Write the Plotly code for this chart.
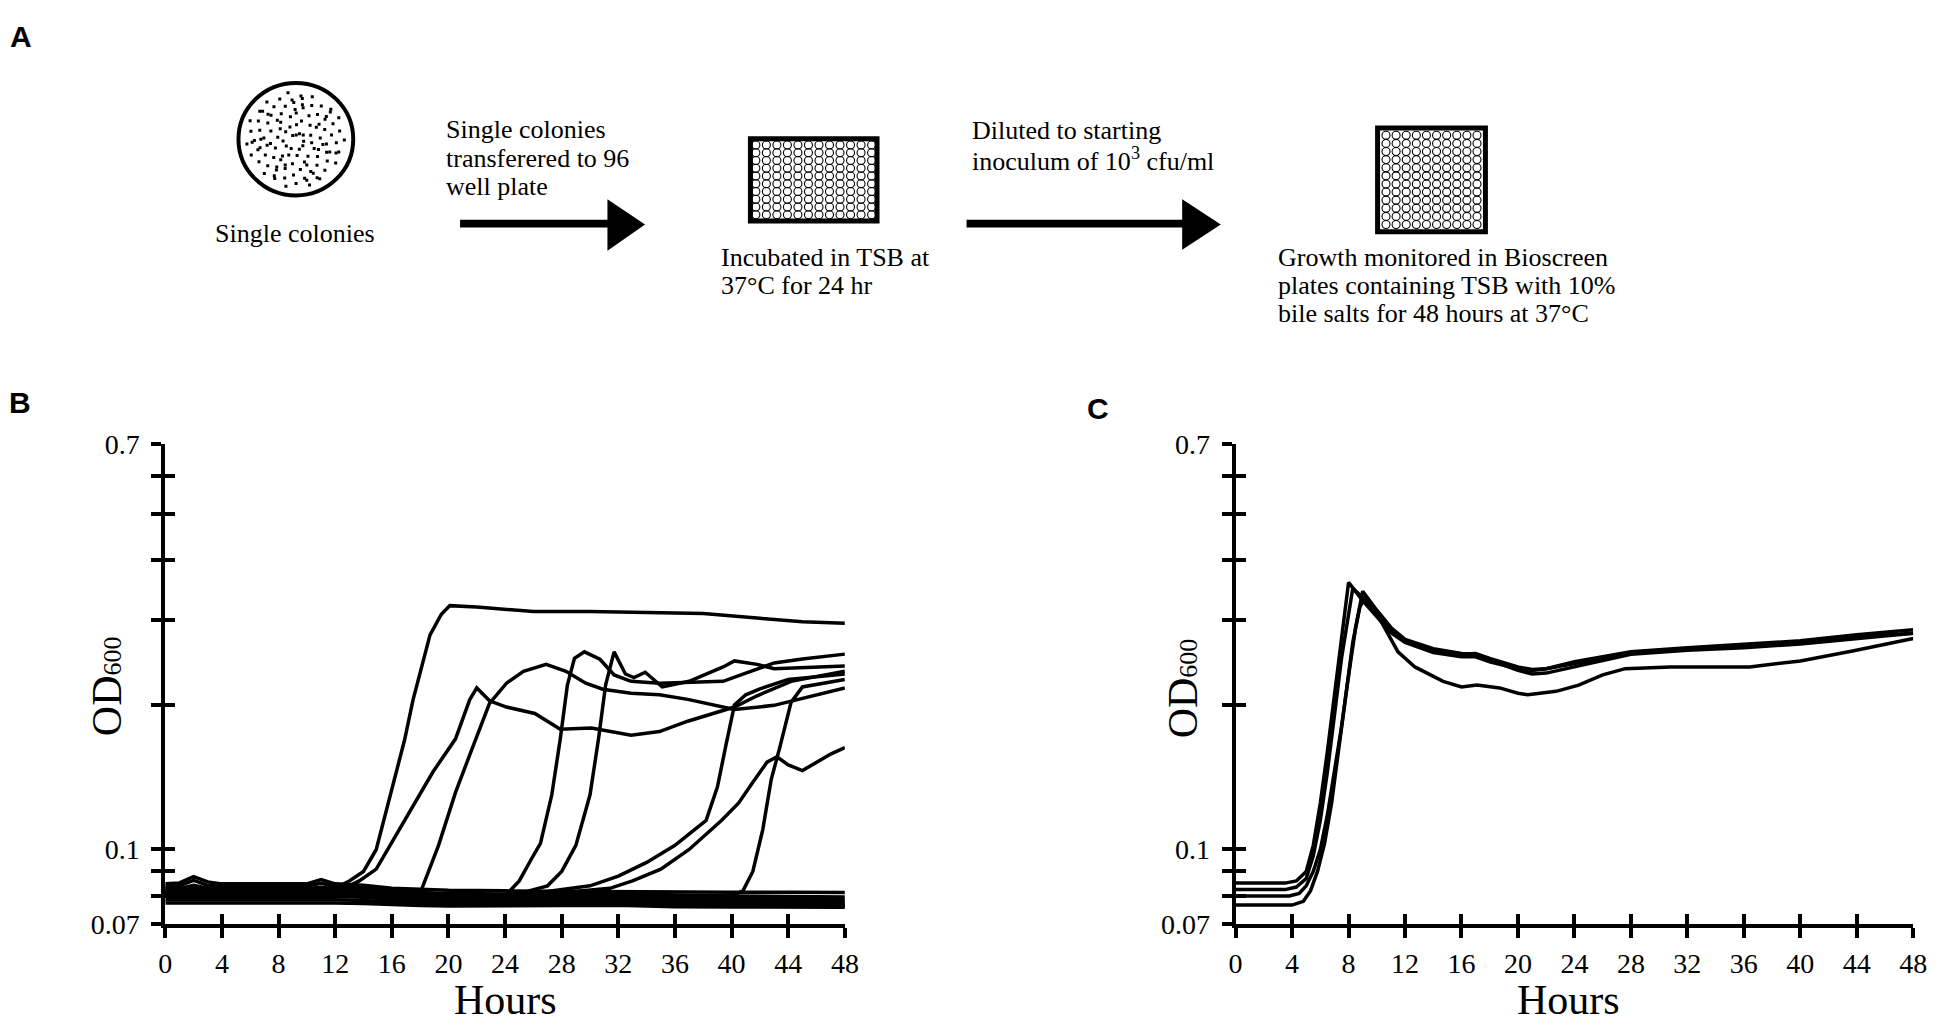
import math
import plotly.graph_objects as go

W, H = 1950, 1032
SERIF = "Liberation Serif"

# ---------------- data: panel B (OD600 vs hours, log axis) ----------------
hours_flat = [0, 1, 2, 3, 4, 6, 8, 10, 11, 12, 14, 16, 18, 20, 24, 28, 32, 36, 40, 44, 48]
flat_1 = [0.0848, 0.0852, 0.0878, 0.0856, 0.0848, 0.0848, 0.0848, 0.0848, 0.0866, 0.0848, 0.0842, 0.0830, 0.0826, 0.0822, 0.0820, 0.0818, 0.0819, 0.0816, 0.0815, 0.0815, 0.0814]
flat_2 = [0.0838, 0.0840, 0.0862, 0.0842, 0.0838, 0.0838, 0.0838, 0.0839, 0.0850, 0.0838, 0.0834, 0.0820, 0.0814, 0.0810, 0.0808, 0.0810, 0.0814, 0.0802, 0.0799, 0.0797, 0.0796]
flat_3 = [0.0828, 0.0829, 0.0842, 0.0830, 0.0828, 0.0828, 0.0828, 0.0828, 0.0834, 0.0828, 0.0824, 0.0812, 0.0805, 0.0802, 0.0800, 0.0802, 0.0805, 0.0794, 0.0790, 0.0788, 0.0787]
flat_4 = [0.0818, 0.0818, 0.0826, 0.0820, 0.0818, 0.0818, 0.0818, 0.0818, 0.0822, 0.0818, 0.0815, 0.0803, 0.0796, 0.0792, 0.0790, 0.0793, 0.0796, 0.0786, 0.0782, 0.0780, 0.0779]
flat_5 = [0.0808, 0.0808, 0.0813, 0.0809, 0.0808, 0.0808, 0.0808, 0.0808, 0.0811, 0.0808, 0.0804, 0.0794, 0.0788, 0.0784, 0.0782, 0.0784, 0.0787, 0.0778, 0.0775, 0.0773, 0.0772]
flat_6 = [0.0798, 0.0798, 0.0801, 0.0799, 0.0798, 0.0798, 0.0798, 0.0798, 0.0800, 0.0798, 0.0795, 0.0786, 0.0780, 0.0777, 0.0775, 0.0777, 0.0779, 0.0771, 0.0769, 0.0767, 0.0766]
flat_7 = [0.0786, 0.0786, 0.0789, 0.0787, 0.0786, 0.0786, 0.0786, 0.0786, 0.0787, 0.0786, 0.0783, 0.0776, 0.0772, 0.0770, 0.0769, 0.0771, 0.0772, 0.0765, 0.0763, 0.0762, 0.0762]
flat_8 = [0.0774, 0.0774, 0.0777, 0.0775, 0.0774, 0.0774, 0.0774, 0.0774, 0.0775, 0.0774, 0.0772, 0.0767, 0.0764, 0.0763, 0.0762, 0.0764, 0.0765, 0.0760, 0.0759, 0.0758, 0.0758]

b_hours_1 = [0, 4, 8, 12, 13, 14, 14.9, 16, 16.9, 17.5, 18.1, 18.7, 19.5, 20.1, 22, 26, 30, 34, 38, 42, 45, 48]
b_od_1 = [0.083, 0.083, 0.083, 0.083, 0.086, 0.09, 0.1, 0.134, 0.169, 0.205, 0.24, 0.28, 0.309, 0.322, 0.32, 0.313, 0.313, 0.311, 0.31, 0.303, 0.298, 0.296]

b_hours_2 = [0, 4, 8, 12, 13, 13.7, 14.9, 16.9, 18.9, 20.5, 21.5, 22, 22.9, 24.1, 26.1, 27.9, 30.1, 32.9, 34.9, 36.9, 40.2, 41.8, 44.2, 46.6, 48]
b_od_2 = [0.082, 0.082, 0.082, 0.082, 0.084, 0.086, 0.091, 0.115, 0.145, 0.17, 0.205, 0.217, 0.204, 0.198, 0.192, 0.178, 0.179, 0.173, 0.176, 0.185, 0.198, 0.209, 0.224, 0.231, 0.235]

b_hours_3 = [0, 4, 8, 12, 16, 18.1, 19.3, 20.5, 21.7, 22.9, 24.1, 25.3, 26.9, 28.3, 29.7, 30.9, 32.9, 34.9, 36.9, 40.2, 43, 45.8, 48]
b_od_3 = [0.081, 0.081, 0.081, 0.081, 0.08, 0.0825, 0.102, 0.1315, 0.163, 0.2015, 0.222, 0.235, 0.243, 0.235, 0.222, 0.2157, 0.2115, 0.21, 0.2054, 0.1957, 0.1996, 0.2094, 0.217]

b_hours_4 = [0, 4, 8, 12, 16, 20, 24, 25, 25.9, 26.5, 27.3, 27.9, 28.4, 28.9, 29.6, 30.7, 31.7, 32.9, 34.9, 36.9, 39.4, 41, 43, 45, 48]
b_od_4 = [0.0815, 0.0815, 0.0815, 0.0815, 0.08, 0.079, 0.08, 0.086, 0.096, 0.103, 0.13, 0.17, 0.22, 0.25, 0.258, 0.249, 0.231, 0.224, 0.222, 0.2225, 0.224, 0.233, 0.2446, 0.2494, 0.2552]

b_hours_5 = [0, 4, 8, 12, 16, 20, 24, 27, 28, 29, 30, 30.6, 31.1, 31.7, 32.5, 33.1, 33.9, 35.1, 37, 39.4, 40.2, 41.8, 43, 45, 48]
b_od_5 = [0.0805, 0.0805, 0.0805, 0.0805, 0.079, 0.079, 0.0795, 0.084, 0.09, 0.102, 0.13, 0.17, 0.22, 0.258, 0.232, 0.228, 0.234, 0.218, 0.224, 0.24, 0.247, 0.243, 0.238, 0.239, 0.241]

b_hours_6 = [0, 8, 16, 24, 30, 32, 34, 36, 38.2, 39, 39.6, 40.2, 41, 42, 44, 46, 48]
b_od_6 = [0.0812, 0.0812, 0.0798, 0.0796, 0.084, 0.088, 0.094, 0.102, 0.115, 0.135, 0.165, 0.2, 0.21, 0.216, 0.226, 0.229, 0.232]

b_hours_7 = [0, 8, 16, 24, 31.4, 33, 35, 37, 39.3, 40.5, 41.5, 42.5, 43.2, 44, 45, 46, 47, 48]
b_od_7 = [0.0808, 0.0808, 0.0795, 0.0793, 0.083, 0.086, 0.091, 0.1, 0.115, 0.125, 0.138, 0.152, 0.156, 0.15, 0.146, 0.152, 0.158, 0.163]

b_hours_8 = [0, 8, 16, 24, 32, 40, 40.8, 41.5, 42.2, 42.8, 43.4, 44.2, 45, 46.6, 48]
b_od_8 = [0.0822, 0.0822, 0.0808, 0.0805, 0.0808, 0.080, 0.082, 0.09, 0.11, 0.14, 0.163, 0.2025, 0.218, 0.222, 0.226]

# ---------------- data: panel C ----------------
c_hours_1 = [0, 3.5, 4.3, 5, 5.5, 6, 6.5, 7, 7.5, 8, 9, 10, 11, 12, 14, 16, 17, 18, 20, 21, 22, 24, 26, 28, 32, 36, 40, 44, 48]
c_od_1 = [0.0851, 0.0851, 0.086, 0.09, 0.102, 0.125, 0.16, 0.21, 0.28, 0.36, 0.33, 0.305, 0.283, 0.27, 0.257, 0.252, 0.252, 0.246, 0.238, 0.236, 0.238, 0.246, 0.252, 0.258, 0.263, 0.267, 0.272, 0.28, 0.287]

c_hours_2 = [0, 3.5, 4.3, 5, 5.5, 6, 6.5, 7, 7.5, 8.3, 9, 10, 11, 12, 14, 16, 17, 18, 20, 21, 22, 24, 26, 28, 32, 36, 40, 44, 48]
c_od_2 = [0.0825, 0.0825, 0.0835, 0.087, 0.097, 0.115, 0.145, 0.19, 0.25, 0.35, 0.335, 0.31, 0.288, 0.272, 0.26, 0.255, 0.256, 0.25, 0.24, 0.237, 0.238, 0.244, 0.25, 0.256, 0.262, 0.266, 0.27, 0.277, 0.282]

c_hours_3 = [0, 3.8, 4.5, 5, 5.5, 6, 6.5, 7, 7.5, 8, 8.5, 9, 10, 11, 12, 14, 16, 17, 18, 20, 21, 22, 24, 26, 28, 32, 36, 40, 44, 48]
c_od_3 = [0.080, 0.080, 0.081, 0.084, 0.09, 0.1, 0.118, 0.145, 0.18, 0.23, 0.29, 0.345, 0.315, 0.29, 0.274, 0.262, 0.256, 0.255, 0.248, 0.236, 0.232, 0.233, 0.24, 0.248, 0.255, 0.26, 0.263, 0.268, 0.275, 0.282]

c_hours_4 = [0, 4, 4.8, 5.3, 5.8, 6.3, 6.8, 7.3, 7.8, 8.3, 8.8, 9.2, 10, 10.7, 11.5, 12.7, 14.7, 16, 17.1, 18.7, 20, 20.7, 22.7, 24.3, 26, 27.6, 30.8, 36.4, 40, 43.7, 48]
c_od_4 = [0.0766, 0.0766, 0.078, 0.082, 0.09, 0.103, 0.125, 0.16, 0.21, 0.27, 0.32, 0.335, 0.31, 0.285, 0.258, 0.24, 0.224, 0.218, 0.22, 0.217, 0.2115, 0.21, 0.2135, 0.22, 0.231, 0.238, 0.24, 0.24, 0.247, 0.259, 0.275]

# ---------------- axis ticks ----------------
hour_ticks = list(range(0, 49, 4))
od_ticks = [0.07, 0.08, 0.09, 0.1, 0.2, 0.3, 0.4, 0.5, 0.6, 0.7]
od_labels = ["0.07", "", "", "0.1", "", "", "", "", "", "0.7"]


def px(x):
    return x / W


def py(y):
    return 1 - y / H


fig = go.Figure()

b_flat = [flat_1, flat_2, flat_3, flat_4, flat_5, flat_6, flat_7, flat_8]
b_grow = [(b_hours_1, b_od_1), (b_hours_2, b_od_2), (b_hours_3, b_od_3), (b_hours_4, b_od_4),
          (b_hours_5, b_od_5), (b_hours_6, b_od_6), (b_hours_7, b_od_7), (b_hours_8, b_od_8)]
c_grow = [(c_hours_1, c_od_1), (c_hours_2, c_od_2), (c_hours_3, c_od_3), (c_hours_4, c_od_4)]

for vals in b_flat:
    fig.add_trace(go.Scatter(x=hours_flat, y=vals, mode="lines", xaxis="x", yaxis="y",
                             line=dict(color="black", width=3.5), showlegend=False, hoverinfo="skip"))
for hrs, vals in b_grow:
    fig.add_trace(go.Scatter(x=hrs, y=vals, mode="lines", xaxis="x", yaxis="y",
                             line=dict(color="black", width=3.5), showlegend=False, hoverinfo="skip"))
for hrs, vals in c_grow:
    fig.add_trace(go.Scatter(x=hrs, y=vals, mode="lines", xaxis="x2", yaxis="y2",
                             line=dict(color="black", width=3.5), showlegend=False, hoverinfo="skip"))

# empty traces so the overlay axes (inner half of the crossing ticks) get drawn
fig.add_trace(go.Scatter(x=[None], y=[None], xaxis="x4", yaxis="y4", showlegend=False))
fig.add_trace(go.Scatter(x=[None], y=[None], xaxis="x5", yaxis="y5", showlegend=False))

# ---------------- panel A schematic (pixel coordinates on x3/y3) ----------------
dish_cx, dish_cy, dish_r = 292, 128, 58
n_dots = 120
dot_x, dot_y = [], []
for i in range(n_dots):
    u = (0.5 + i * 0.7548776662) % 1
    v = (0.5 + i * 0.5698402910) % 1
    rr = 50 * math.sqrt(u)
    dot_x.append(dish_cx + rr * math.cos(2 * math.pi * v))
    dot_y.append(dish_cy + rr * math.sin(2 * math.pi * v))
fig.add_trace(go.Scatter(x=dot_x, y=dot_y, mode="markers", xaxis="x3", yaxis="y3",
                         marker=dict(symbol="square", size=3, color="black"),
                         showlegend=False, hoverinfo="skip"))


def well_grid(x0, x1, y0, y1, ncol, nrow):
    xs, ys = [], []
    for r in range(nrow):
        for c in range(ncol):
            xs.append(x0 + (x1 - x0) * c / (ncol - 1))
            ys.append(y0 + (y1 - y0) * r / (nrow - 1))
    return xs, ys


for (gx0, gx1, gy0, gy1, nc, nr) in [(757, 874, 134, 206, 12, 10),
                                      (1394, 1486, 124, 216, 10, 12)]:
    wx, wy = well_grid(gx0, gx1, gy0, gy1, nc, nr)
    fig.add_trace(go.Scatter(x=wx, y=wy, mode="markers", xaxis="x3", yaxis="y3",
                             marker=dict(symbol="circle-open", size=8, color="black",
                                         line=dict(width=1.1, color="black")),
                             showlegend=False, hoverinfo="skip"))

shapes = [
    dict(type="circle", xref="x3", yref="y3", x0=dish_cx - dish_r, x1=dish_cx + dish_r,
         y0=dish_cy - dish_r, y1=dish_cy + dish_r, line=dict(color="black", width=4)),
    dict(type="rect", xref="x3", yref="y3", x0=751.5, x1=879.5, y0=127.5, y1=212.5,
         line=dict(color="black", width=5)),
    dict(type="rect", xref="x3", yref="y3", x0=1385.5, x1=1494.5, y0=116.5, y1=223.5,
         line=dict(color="black", width=5)),
    dict(type="rect", xref="x3", yref="y3", x0=458, x1=610, y0=211, y1=219,
         fillcolor="black", line=dict(width=0)),
    dict(type="path", xref="x3", yref="y3", path="M 607 190 L 645 216 L 607 243 Z",
         fillcolor="black", line=dict(width=0)),
    dict(type="rect", xref="x3", yref="y3", x0=970, x1=1190, y0=211, y1=219,
         fillcolor="black", line=dict(width=0)),
    dict(type="path", xref="x3", yref="y3", path="M 1188 190 L 1227 216 L 1188 242 Z",
         fillcolor="black", line=dict(width=0)),
]

text_font = dict(family=SERIF, size=26, color="black")
annotations = []
a_lines = [
    (208, 225, "Single colonies"),
    (442, 118, "Single colonies"),
    (442, 148, "transferered to 96"),
    (442, 177, "well plate"),
    (720, 250, "Incubated in TSB at"),
    (720, 279, "37°C for 24 hr"),
    (973, 119, "Diluted to starting"),
    (973, 149, "inoculum of 10<sup>3</sup> cfu/ml"),
    (1283, 250, "Growth monitored in Bioscreen"),
    (1283, 279, "plates containing TSB with 10%"),
    (1283, 308, "bile salts for 48 hours at 37°C"),
]
for x, y, t in a_lines:
    annotations.append(dict(x=px(x), y=py(y), xref="paper", yref="paper", text=t, showarrow=False,
                            xanchor="left", yanchor="middle", font=text_font))

panel_font = dict(family="Liberation Sans", size=30, color="black")
for x, y, t in [(1, 22, "A"), (0, 399, "B"), (1090, 406, "C")]:
    annotations.append(dict(x=px(x), y=py(y), xref="paper", yref="paper", text="<b>%s</b>" % t,
                            showarrow=False, xanchor="left", yanchor="middle", font=panel_font))

title_font = dict(family=SERIF, size=42, color="black")
for x in (504, 1579):
    annotations.append(dict(x=px(x), y=py(1015), xref="paper", yref="paper", text="Hours",
                            showarrow=False, xanchor="center", yanchor="middle", font=title_font))
for x, y in ((101, 692), (1189, 694)):
    annotations.append(dict(x=px(x), y=py(y), xref="paper", yref="paper",
                            text="OD<span style='font-size:26px'>600</span>", textangle=-90,
                            showarrow=False, xanchor="center", yanchor="middle", font=title_font))

# ---------------- axes ----------------
tick_font = dict(family=SERIF, size=28, color="black")
y_dom = [py(937), py(442)]
log_range = [math.log10(0.07), math.log10(0.7)]


def x_main(dom, anchor):
    return dict(domain=dom, anchor=anchor, range=[0, 48], tickvals=hour_ticks, ticks="outside",
                ticklen=10, tickwidth=4, tickcolor="black", showline=True, linewidth=4,
                linecolor="black", showgrid=False, zeroline=False, tickfont=tick_font,
                ticklabelstandoff=2, fixedrange=True)


def y_main(anchor):
    return dict(domain=y_dom, anchor=anchor, type="log", range=log_range, tickvals=od_ticks,
                ticktext=od_labels, ticks="outside", ticklen=10, tickwidth=4, tickcolor="black",
                showline=True, linewidth=4, linecolor="black", showgrid=False, zeroline=False,
                tickfont=tick_font, ticklabelstandoff=6, fixedrange=True)


def x_inner(over, anchor):
    return dict(overlaying=over, anchor=anchor, range=[0, 48], tickvals=hour_ticks, ticks="inside",
                ticklen=10, tickwidth=4, tickcolor="black", showticklabels=False, showline=False,
                showgrid=False, zeroline=False, fixedrange=True)


def y_inner(over, anchor):
    return dict(overlaying=over, anchor=anchor, type="log", range=log_range, tickvals=od_ticks,
                ticks="inside", ticklen=10, tickwidth=4, tickcolor="black", showticklabels=False,
                showline=False, showgrid=False, zeroline=False, fixedrange=True)


fig.update_layout(
    width=W, height=H,
    margin=dict(l=0, r=0, t=0, b=0),
    paper_bgcolor="white",
    plot_bgcolor="rgba(0,0,0,0)",
    showlegend=False,
    xaxis=x_main([px(160), px(847)], "y"),
    yaxis=y_main("x"),
    xaxis2=x_main([px(1242), px(1927)], "y2"),
    yaxis2=y_main("x2"),
    xaxis3=dict(domain=[0, 1], anchor="y3", range=[0, W], visible=False, fixedrange=True),
    yaxis3=dict(domain=[0.6, 1], anchor="x3", range=[0.4 * H, 0], visible=False, fixedrange=True),
    xaxis4=x_inner("x", "y"),
    yaxis4=y_inner("y", "x"),
    xaxis5=x_inner("x2", "y2"),
    yaxis5=y_inner("y2", "x2"),
    shapes=shapes,
    annotations=annotations,
)

# the page's default body margin would push the 1950x1032 figure off the window
fig.write_html("out.html", config={"displayModeBar": False},
               post_script="document.body.style.margin='0px';"
                           "document.documentElement.style.overflow='hidden';")
